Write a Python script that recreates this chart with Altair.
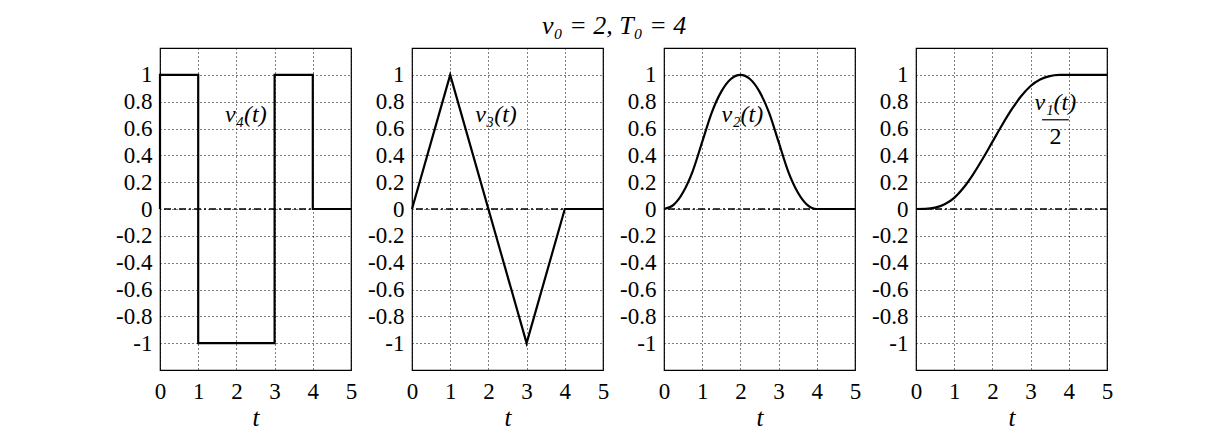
import altair as alt
import pandas as pd

# ---- data ----
t4 = [0, 0, 1, 1, 3, 3, 4, 4, 5]
v4 = [0, 1, 1, -1, -1, 1, 1, 0, 0]

t3 = [0, 1, 3, 4, 5]
v3 = [0, 1, -1, 0, 0]

t_smooth = [0, 0.25, 0.5, 0.75, 1, 1.25, 1.5, 1.75, 2, 2.25, 2.5, 2.75, 3, 3.25, 3.5, 3.75, 4, 5]
v2 = [0, 0.031, 0.125, 0.281, 0.5, 0.719, 0.875, 0.969, 1.0, 0.969, 0.875, 0.719, 0.5, 0.281, 0.125, 0.031, 0, 0]
v1_half = [0, 0.001, 0.010, 0.035, 0.083, 0.160, 0.260, 0.376, 0.5, 0.624, 0.740, 0.840, 0.917, 0.965, 0.990, 0.999, 1.0, 1.0]

x_ticks = [0, 1, 2, 3, 4, 5]
y_ticks = [-1, -0.8, -0.6, -0.4, -0.2, 0, 0.2, 0.4, 0.6, 0.8, 1]

labels = ["v₄(t)", "v₃(t)", "v₂(t)", "v₁(t)"]
label_x = [2.25, 2.2, 2.05, 3.65]
label_y = [0.7, 0.7, 0.7, 0.79]
frac_den = "2"
frac_den_pos = (3.65, 0.54)
frac_bar = (3.3, 4.0, 0.665)
title_text = "v₀ = 2, T₀ = 4"

SERIF = "'Liberation Serif', 'DejaVu Serif', serif"
W, H = 191, 322

xscale = alt.Scale(domain=[0, 5], nice=False, zero=False)
yscale = alt.Scale(domain=[-1.2, 1.2], nice=False, zero=False)
xaxis = alt.Axis(values=x_ticks, title="t", titleFontStyle="italic", titleFont=SERIF,
                 titleFontSize=25, titleFontWeight="normal", titlePadding=2,
                 labelFont=SERIF, labelFontSize=23, labelPadding=10, labelOverlap=False,
                 labelFlush=False)
yaxis = alt.Axis(values=y_ticks, title=None, labelFont=SERIF, labelFontSize=23, labelPadding=8,
                 labelOverlap=False, labelFlush=False,
                 labelExpr="replace(format(datum.value, '~g'), '\u2212', '-')")


def X(field="t"):
    return alt.X(f"{field}:Q", scale=xscale, axis=xaxis)


def Y(field="v"):
    return alt.Y(f"{field}:Q", scale=yscale, axis=yaxis)


def panel(tv, vv, idx, extra=None):
    df = pd.DataFrame({"t": tv, "v": vv, "o": list(range(len(tv)))})
    interp = "monotone" if idx >= 2 else "linear"
    line = alt.Chart(df).mark_line(color="black", strokeWidth=2.2, interpolate=interp).encode(
        x=X(), y=Y(), order="o:Q",
    )
    zero = alt.Chart(pd.DataFrame({"v": [0]})).mark_rule(
        color="black", strokeWidth=1.4, strokeDash=[7, 3, 2, 3]
    ).encode(y=Y())
    lab = alt.Chart(pd.DataFrame({"t": [label_x[idx]], "v": [label_y[idx]], "s": [labels[idx]]})).mark_text(
        font=SERIF, fontSize=24, fontStyle="italic", color="black"
    ).encode(x=X(), y=Y(), text="s:N")
    layers = [zero, line, lab]
    if extra is not None:
        layers += extra
    return alt.layer(*layers).properties(width=W, height=H)


den = alt.Chart(pd.DataFrame({"t": [frac_den_pos[0]], "v": [frac_den_pos[1]], "s": [frac_den]})).mark_text(
    font=SERIF, fontSize=24, color="black"
).encode(x=X(), y=Y(), text="s:N")
bar = alt.Chart(pd.DataFrame({"t": [frac_bar[0]], "t2": [frac_bar[1]], "v": [frac_bar[2]]})).mark_rule(
    color="black", strokeWidth=1.2
).encode(x=X(), x2="t2:Q", y=Y())

chart = alt.hconcat(
    panel(t4, v4, 0),
    panel(t3, v3, 1),
    panel(t_smooth, v2, 2),
    panel(t_smooth, v1_half, 3, extra=[bar, den]),
    spacing=8,
).properties(
    title=alt.TitleParams(title_text, font=SERIF, fontSize=26, fontStyle="italic",
                          fontWeight="normal", anchor="middle", offset=8),
    padding={"left": 106, "top": 5, "right": 5, "bottom": 5},
).configure_view(stroke="black", strokeWidth=1.2).configure_axis(
    grid=True, gridColor="black", gridDash=[1, 3], gridOpacity=1, gridWidth=1,
    domain=False, ticks=False, labelColor="black", titleColor="black"
)

chart.save("out.html", embed_options={"renderer": "svg", "actions": False})
